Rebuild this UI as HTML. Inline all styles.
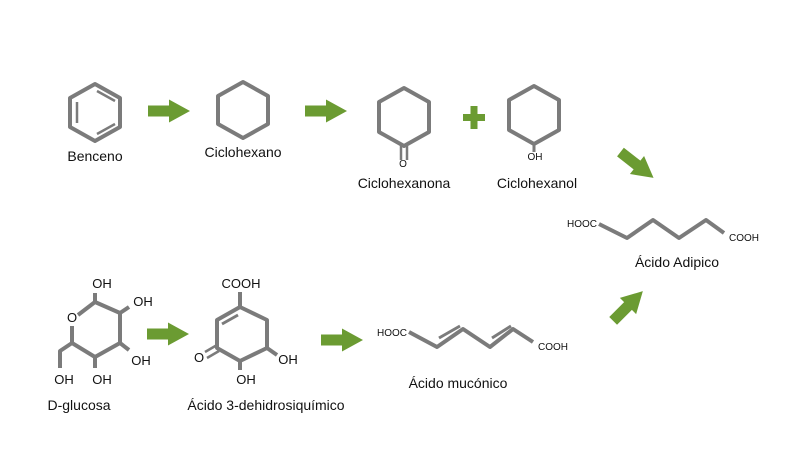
<!DOCTYPE html>
<html><head><meta charset="utf-8"><style>
html,body{margin:0;padding:0;background:#fff}
svg{display:block}
text{font-family:"Liberation Sans",sans-serif;fill:#111}
</style></head><body>
<svg width="800" height="450" viewBox="0 0 800 450" xmlns="http://www.w3.org/2000/svg">
<defs>
<g id="arr"><path d="M-21,-5.5 H0 V-11.5 L21,0 L0,11.5 V5.5 H-21 Z" fill="#6b9b32"/></g>
</defs>
<g fill="none" stroke="#7b7b7b" stroke-width="4" stroke-linejoin="round">
<!-- benzene -->
<polygon points="95,84 120,98 120,127 95,141 70,127 70,98"/>
<line x1="77" y1="102" x2="77" y2="123" stroke-width="2.5"/>
<line x1="97" y1="91" x2="115" y2="101" stroke-width="2.5"/>
<line x1="97" y1="134" x2="115" y2="124" stroke-width="2.5"/>
<!-- cyclohexane -->
<polygon points="243,82 268,96 268,124 243,138 218,124 218,96"/>
<!-- cyclohexanone -->
<polygon points="404,88 429,102 429,132 404,146 379,132 379,102"/>
<line x1="401" y1="146" x2="401" y2="160" stroke-width="2.5"/>
<line x1="407" y1="146" x2="407" y2="160" stroke-width="2.5"/>
<!-- cyclohexanol -->
<polygon points="534,86 559,100 559,130 534,144 509,130 509,100"/>
<line x1="534" y1="144" x2="534" y2="152" stroke-width="3"/>
<!-- adipic -->
<polyline points="599,224 627,238 653,220 679,238 706,220 724,233"/>
<!-- muconic -->
<polyline points="409,332 437,347 463,329 490,347 513,329 533,342"/>
<line x1="439" y1="338" x2="460" y2="326" stroke-width="3"/>
<line x1="492" y1="338" x2="511" y2="326" stroke-width="3"/>
<!-- glucose -->
<polyline points="78,315 95,302 120,313 120,343 95,357 72,343 72,326"/>
<line x1="95" y1="302" x2="95" y2="293"/>
<line x1="120" y1="313" x2="129" y2="307"/>
<line x1="120" y1="343" x2="129" y2="350"/>
<line x1="95" y1="357" x2="95" y2="368"/>
<polyline points="72,343 60,351 60,368"/>
<!-- dehydroshikimic -->
<polygon points="240,307 267,320 267,348 240,361 217,348 217,320"/>
<line x1="240" y1="307" x2="240" y2="292"/>
<line x1="238" y1="315" x2="222" y2="324" stroke-width="3"/>
<line x1="267" y1="348" x2="277" y2="355"/>
<line x1="240" y1="361" x2="240" y2="370"/>
<line x1="217" y1="345" x2="205" y2="352" stroke-width="2.5"/>
<line x1="219" y1="351" x2="207" y2="358" stroke-width="2.5"/>
</g>
<!-- arrows -->
<use href="#arr" transform="translate(169,111)"/>
<use href="#arr" transform="translate(326,111)"/>
<use href="#arr" transform="translate(168,334)"/>
<use href="#arr" transform="translate(342,340)"/>
<use href="#arr" transform="translate(637,165) rotate(38)"/>
<use href="#arr" transform="translate(628,306) rotate(-45)"/>
<!-- plus -->
<rect x="463" y="114" width="22" height="7" fill="#6b9b32"/>
<rect x="470.5" y="106" width="7" height="23" fill="#6b9b32"/>
<!-- labels -->
<g font-size="14" text-anchor="middle">
<text x="95" y="161">Benceno</text>
<text x="243" y="157">Ciclohexano</text>
<text x="404" y="188">Ciclohexanona</text>
<text x="537" y="188">Ciclohexanol</text>
<text x="677" y="267">Ácido Adipico</text>
<text x="458" y="388">Ácido mucónico</text>
<text x="79" y="410">D-glucosa</text>
<text x="266" y="410">Ácido 3-dehidrosiquímico</text>
</g>
<g font-size="10" text-anchor="middle">
<text x="403" y="167">O</text>
<text x="535" y="160">OH</text>
<text x="582" y="227">HOOC</text>
<text x="744" y="241">COOH</text>
<text x="392" y="336">HOOC</text>
<text x="553" y="350">COOH</text>
</g>
<g font-size="13" text-anchor="middle">
<text x="102" y="288">OH</text>
<text x="143" y="306">OH</text>
<text x="72" y="322">O</text>
<text x="141" y="365">OH</text>
<text x="102" y="384">OH</text>
<text x="64" y="384">OH</text>
<text x="241" y="288">COOH</text>
<text x="199" y="362">O</text>
<text x="288" y="364">OH</text>
<text x="246" y="384">OH</text>
</g>
</svg>
</body></html>
